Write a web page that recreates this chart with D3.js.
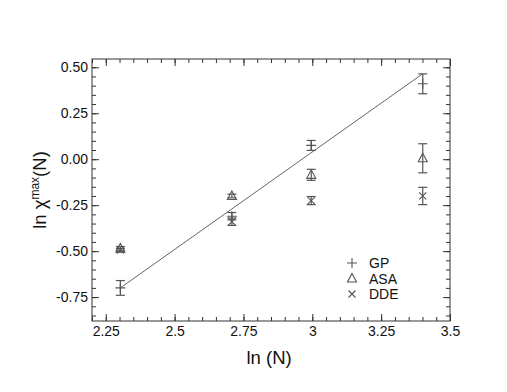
<!DOCTYPE html>
<meta charset="utf-8">
<script src="https://d3js.org/d3.v7.min.js"></script>
<style>
  body { margin: 0; background: #fff; }
  text { font-family: "Liberation Sans", Arial, sans-serif; fill: #111; }
</style>
<div id="my_dataviz"></div>
<script>

// data (x = ln N for N = 10, 15, 20, 30)
var lnN = [2.303, 2.708, 2.996, 3.401];
var gpVals = [-0.70, -0.31, 0.075, 0.41];
var gpErr = [0.04, 0.02, 0.027, 0.054];
var asaVals = [-0.485, -0.20, -0.085, 0.005];
var asaErr = [0.01, 0.01, 0.03, 0.079];
var ddeVals = [-0.495, -0.34, -0.225, -0.20];
var ddeErr = [0.01, 0.02, 0.022, 0.047];
var fitX = [2.303, 3.401];
var fitY = [-0.70, 0.465];
var xTicks = [2.25, 2.5, 2.75, 3, 3.25, 3.5];
var yTicks = [-0.75, -0.5, -0.25, 0, 0.25, 0.5];
var seriesNames = ["GP", "ASA", "DDE"];

var margin = {top: 59, right: 57, bottom: 71, left: 92},
    width = 507 - margin.left - margin.right,
    height = 392 - margin.top - margin.bottom;

var svg = d3.select("#my_dataviz")
  .append("svg")
    .attr("width", 507)
    .attr("height", 392)
  .append("g")
    .attr("transform", "translate(" + margin.left + "," + margin.top + ")");

var x = d3.scaleLinear().domain([2.2, 3.5]).range([0, width]);
var y = d3.scaleLinear().domain([-0.88, 0.545]).range([height, 0]);

var ink = "#333";
var markInk = "#555";

// minor ticks every 0.05, major from the tick arrays
var xMinor = d3.range(2.2, 3.5001, 0.05);
var yMinor = d3.range(-0.85, 0.5451, 0.05);

function styleAxis(g) {
  g.select(".domain").remove();
  g.selectAll("line").attr("stroke", ink);
  g.selectAll("text").style("font-size", "14px").attr("fill", "#111");
}

// plain hyphen as in the original labels
var yFmt = function(d) { return d3.format(".2f")(d).replace("\u2212", "-"); };

// bottom
svg.append("g").attr("transform", "translate(0," + height + ")")
  .call(d3.axisBottom(x).tickValues(xMinor).tickSize(-4).tickFormat(""))
  .call(styleAxis);
svg.append("g").attr("transform", "translate(0," + height + ")")
  .call(d3.axisBottom(x).tickValues(xTicks).tickSize(-7).tickPadding(5)
    .tickFormat(function(d) { return d % 1 === 0 ? d3.format("d")(d) : String(d); }))
  .call(styleAxis);
// top
svg.append("g")
  .call(d3.axisTop(x).tickValues(xMinor).tickSize(-4).tickFormat(""))
  .call(styleAxis);
svg.append("g")
  .call(d3.axisTop(x).tickValues(xTicks).tickSize(-7).tickFormat(""))
  .call(styleAxis);
// left
svg.append("g")
  .call(d3.axisLeft(y).tickValues(yMinor).tickSize(-4).tickFormat(""))
  .call(styleAxis);
svg.append("g")
  .call(d3.axisLeft(y).tickValues(yTicks).tickSize(-7).tickPadding(4).tickFormat(yFmt))
  .call(styleAxis);
// right
svg.append("g").attr("transform", "translate(" + width + ",0)")
  .call(d3.axisRight(y).tickValues(yMinor).tickSize(-4).tickFormat(""))
  .call(styleAxis);
svg.append("g").attr("transform", "translate(" + width + ",0)")
  .call(d3.axisRight(y).tickValues(yTicks).tickSize(-7).tickFormat(""))
  .call(styleAxis);

// frame
svg.append("rect")
  .attr("width", width).attr("height", height)
  .attr("fill", "none").attr("stroke", ink).attr("stroke-width", 1);

// fit line
svg.append("path")
  .datum(d3.zip(fitX, fitY))
  .attr("fill", "none").attr("stroke", "#666").attr("stroke-width", 1)
  .attr("d", d3.line().x(function(d) { return x(d[0]); }).y(function(d) { return y(d[1]); }));

// error bars
function errorBars(vals, errs) {
  var g = svg.append("g").attr("stroke", markInk).attr("stroke-width", 1.2).attr("fill", "none");
  lnN.forEach(function(xv, i) {
    var cx = x(xv), y0 = y(vals[i] - errs[i]), y1 = y(vals[i] + errs[i]);
    g.append("line").attr("x1", cx).attr("x2", cx).attr("y1", y0).attr("y2", y1);
    g.append("line").attr("x1", cx - 4.5).attr("x2", cx + 4.5).attr("y1", y0).attr("y2", y0);
    g.append("line").attr("x1", cx - 4.5).attr("x2", cx + 4.5).attr("y1", y1).attr("y2", y1);
  });
}
errorBars(gpVals, gpErr);
errorBars(asaVals, asaErr);
errorBars(ddeVals, ddeErr);

// markers
var plusPath = "M-5,0H5M0,-5V5";
var triPath = "M0,-5L4.5,3.5H-4.5Z";
var crossPath = "M-3.5,-3.5L3.5,3.5M-3.5,3.5L3.5,-3.5";
var shapes = [plusPath, triPath, crossPath];
[gpVals, asaVals, ddeVals].forEach(function(vals, s) {
  svg.append("g").selectAll("path")
    .data(vals)
    .enter()
    .append("path")
      .attr("d", shapes[s])
      .attr("transform", function(d, i) { return "translate(" + x(lnN[i]) + "," + y(d) + ")"; })
      .attr("fill", "none").attr("stroke", markInk).attr("stroke-width", 1.1);
});

// legend
var legend = svg.append("g").attr("transform", "translate(260,204)");
seriesNames.forEach(function(name, i) {
  legend.append("path").attr("d", shapes[i])
    .attr("transform", "translate(0," + (i * 15.5) + ")")
    .attr("fill", "none").attr("stroke", markInk).attr("stroke-width", 1.1);
  legend.append("text").attr("x", 17).attr("y", i * 15.5 + 5)
    .style("font-size", "14px").text(name);
});

// axis titles
svg.append("text")
  .attr("x", x(2.843)).attr("y", height + 43)
  .style("text-anchor", "middle").style("font-size", "18.5px")
  .text("ln (N)");

var yt = svg.append("text")
  .attr("transform", "translate(-46," + (height / 2) + ")rotate(-90)")
  .style("text-anchor", "middle").style("font-size", "18.5px");
yt.append("tspan").text("ln \u03c7");
yt.append("tspan").attr("baseline-shift", "60%").style("font-size", "12px").text("max");
yt.append("tspan").text("(N)");

</script>
